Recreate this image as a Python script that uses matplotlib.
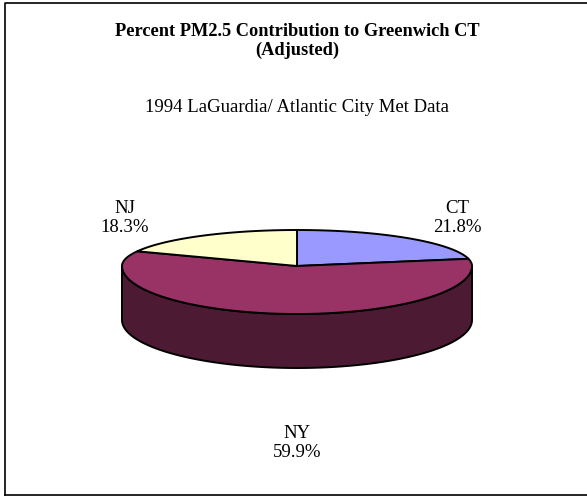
import numpy as np
import matplotlib.pyplot as plt
from matplotlib.patches import Polygon

labels = ['CT', 'NY', 'NJ']
shares = [21.8, 59.9, 18.3]
top_colors = ['#9999FF', '#993366', '#FFFFCC']
side_colors = ['#4D4D80', '#4C1A33', '#808066']

title_lines = ['Percent PM2.5 Contribution to Greenwich CT', '(Adjusted)']
subtitle = '1994 LaGuardia/ Atlantic City Met Data'

# pie geometry in pixel units
cx, cy = 297, 266
rx = 175
ry_back, ry_front = 36, 48
depth = 54


def top_point(theta):
    u, v = np.cos(theta), np.sin(theta)
    ry = np.where(v > 0, ry_back, ry_front)
    return cx + rx * u, cy - ry * v


fig = plt.figure(figsize=(5.87, 4.98), dpi=100)
ax = fig.add_axes([0, 0, 1, 1])
ax.set_xlim(0, 587)
ax.set_ylim(498, 0)
ax.axis('off')

# chart frame
ax.plot([4.5, 4.5, 587], [495, 2.5, 2.5], color='black', lw=1.2)
ax.plot([4.5, 587], [495, 495], color='black', lw=1.2)

# slice angles, clockwise from 12 o'clock
fracs = np.array(shares) / np.sum(shares)
starts = np.pi / 2 - 2 * np.pi * np.concatenate([[0], np.cumsum(fracs)[:-1]])
ends = starts - 2 * np.pi * fracs

# side wall: only the front half (sin < 0) is visible
for s, e, col in zip(starts, ends, side_colors):
    lo, hi = max(e, -np.pi), min(s, 0)
    lo2, hi2 = max(e + 2 * np.pi, -np.pi), min(s + 2 * np.pi, 0)
    for a, b in [(lo, hi), (lo2, hi2)]:
        if b <= a:
            continue
        t = np.linspace(a, b, 200)
        x, y = top_point(t)
        xs = np.concatenate([x, x[::-1]])
        ys = np.concatenate([y, y[::-1] + depth])
        ax.add_patch(Polygon(np.column_stack([xs, ys]), closed=True,
                             facecolor=col, edgecolor='black', lw=1.4))

# top faces
for s, e, col in zip(starts, ends, top_colors):
    t = np.linspace(s, e, 300)
    x, y = top_point(t)
    xs = np.concatenate([[cx], x])
    ys = np.concatenate([[cy], y])
    ax.add_patch(Polygon(np.column_stack([xs, ys]), closed=True,
                         facecolor=col, edgecolor='black', lw=1.4))

# labels
label_pos = {'CT': (457, 208), 'NY': (297, 433), 'NJ': (125, 208)}
for lab, val in zip(labels, shares):
    x, y = label_pos[lab]
    ax.text(x, y, lab, ha='center', va='center',
            family='Liberation Serif', fontsize=13.5)
    ax.text(x, y + 19, f'{val:.1f}%', ha='center', va='center',
            family='Liberation Serif', fontsize=13.5)

for i, line in enumerate(title_lines):
    ax.text(297, 31 + 19.5 * i, line, ha='center', va='center',
            family='Liberation Serif', fontsize=13.2, fontweight='bold')
ax.text(297, 107, subtitle, ha='center', va='center',
        family='Liberation Serif', fontsize=13.5)

fig.savefig('out.png', dpi=100)
